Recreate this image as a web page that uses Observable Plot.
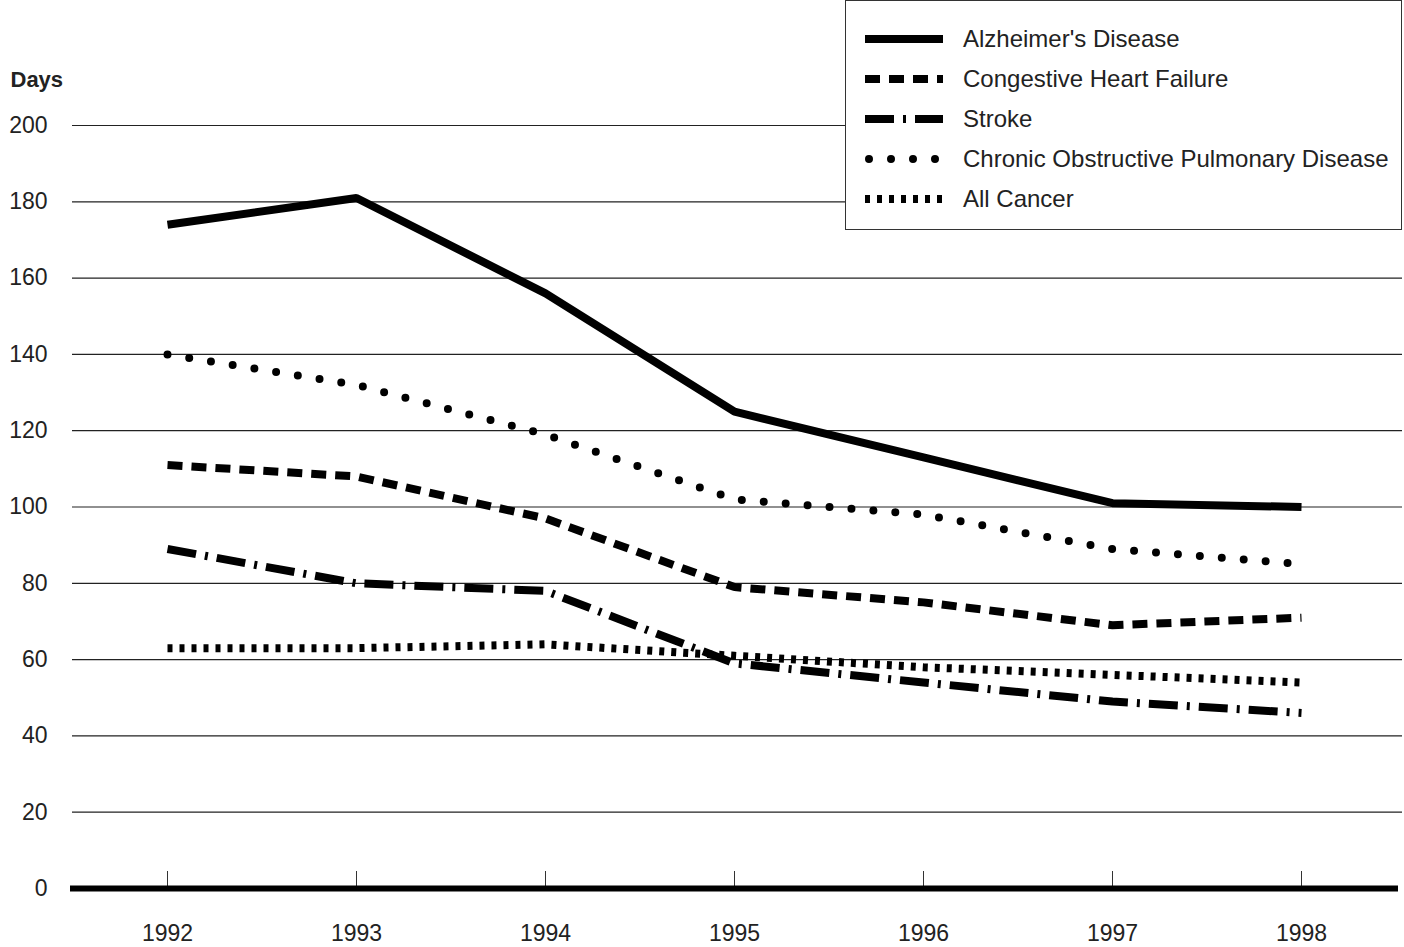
<!DOCTYPE html>
<html>
<head>
<meta charset="utf-8">
<script src="https://cdn.jsdelivr.net/npm/d3@7"></script>
<script src="https://cdn.jsdelivr.net/npm/@observablehq/plot@0.6"></script>
<style>
  html, body { margin: 0; padding: 0; background: #fff; }
  body { font-family: "Liberation Sans", Arial, Helvetica, sans-serif; }
  #wrap { position: relative; width: 1404px; height: 947px; }
  #legend { position: absolute; left: 845px; top: 0px; width: 557px; height: 230px;
    border: 1px solid #333; background: #fff; box-sizing: border-box; }
  .row { position: absolute; left: 19px; height: 26px; display: flex; align-items: center; }
  .row span { margin-left: 20px; font-size: 24px; color: #222; white-space: nowrap; }
</style>
</head>
<body>
<div id="wrap"><div id="chart"></div><div id="legend"></div></div>
<script>
const years = [1992, 1993, 1994, 1995, 1996, 1997, 1998];
const seriesNames = ["Alzheimer's Disease", "Congestive Heart Failure", "Stroke", "Chronic Obstructive Pulmonary Disease", "All Cancer"];
const alzheimers = [174, 181, 156, 125, 113, 101, 100];
const chf = [111, 108, 97, 79, 75, 69, 71];
const stroke = [89, 80, 78, 59, 54, 49, 46];
const copd = [140, 132, 119, 102, 98, 89, 85];
const cancer = [63, 63, 64, 61, 58, 56, 54];
const yTicks = [0, 20, 40, 60, 80, 100, 120, 140, 160, 180, 200];

const seriesValues = [alzheimers, chf, stroke, copd, cancer];
const styles = [
  {dash: null, cap: "butt", width: 8},
  {dash: "15,9", cap: "butt", width: 8},
  {dash: "29,9,3,9", cap: "butt", width: 8},
  {dash: "0,22", cap: "round", width: 8},
  {dash: "5,7", cap: "butt", width: 8}
];

const data = seriesNames.flatMap((name, s) => years.map((yr, i) => ({series: name, year: yr, value: seriesValues[s][i]})));

const lineMarks = seriesNames.map((name, s) => Plot.line(data.filter(d => d.series === name), {
  x: "year", y: "value", stroke: "black", strokeWidth: styles[s].width,
  strokeDasharray: styles[s].dash, strokeLinecap: styles[s].cap, strokeLinejoin: "miter"
}));

const chart = Plot.plot({
  width: 1404,
  height: 947,
  marginLeft: 70,
  marginRight: 6,
  marginTop: 125,
  marginBottom: 59,
  style: {fontFamily: "'Liberation Sans', Arial, sans-serif", fontSize: "23px", color: "#222", background: "white"},
  x: {type: "point", domain: years, padding: 0.5},
  y: {domain: [0, 200]},
  marks: [
    Plot.ruleY(yTicks.filter(d => d > 0), {stroke: "#222", strokeWidth: 1.2, x1: years[0], x2: years[years.length - 1], insetLeft: -95, insetRight: -101}),
    Plot.axisY({ticks: yTicks, tickSize: 0, tickPadding: 23, label: null, fontSize: 23}),
    Plot.axisX({ticks: years, tickSize: -17, stroke: "#333", tickFormat: () => "", label: null}),
    Plot.axisX({ticks: years, tickSize: 0, tickPadding: 36, label: null, fontSize: 23, tickFormat: d => String(d)}),
    Plot.text(["Days"], {frameAnchor: "top-left", dx: -60, dy: -54, text: d => d, fontWeight: "bold", fontSize: 22, textAnchor: "start", fill: "#222"}),
    ...lineMarks,
    Plot.ruleY([0], {stroke: "black", strokeWidth: 6})
  ]
});
document.getElementById("chart").appendChild(chart);

// legend
const legend = document.getElementById("legend");
seriesNames.forEach((name, s) => {
  const row = document.createElement("div");
  row.className = "row";
  row.style.top = (25 + s * 40) + "px";
  const st = styles[s];
  row.innerHTML = `<svg width="78" height="24"><line x1="${st.cap === 'round' ? 4 : 0}" x2="78" y1="12" y2="12" stroke="black" stroke-width="${st.width}" ${st.dash ? `stroke-dasharray="${st.dash}"` : ""} stroke-linecap="${st.cap}"/></svg><span>${name}</span>`;
  legend.appendChild(row);
});
</script>
</body>
</html>
